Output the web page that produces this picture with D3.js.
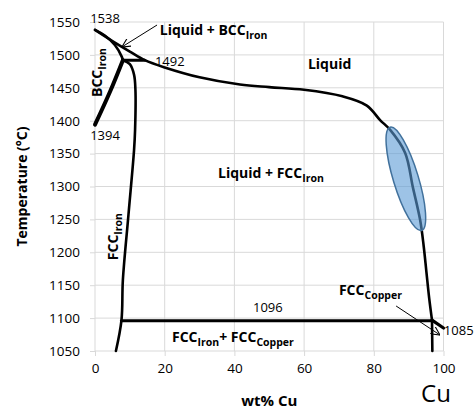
<!DOCTYPE html>
<html>
<head>
<meta charset="utf-8">
<script src="https://cdn.jsdelivr.net/npm/d3@7"></script>
<style>
  body { margin: 0; background: #fff; }
  svg text { font-family: "Open Sans", "Liberation Sans", sans-serif; fill: #000; }
  .grid line { stroke: #d9d9d9; stroke-width: 1; }
  .axis path, .axis line { stroke: #d9d9d9; }
  .axis text { font-size: 13.5px; }
  .lbl { font-weight: bold; font-size: 14px; }
  .num { font-size: 13px; }
  .phase { fill: none; stroke: #000; stroke-linecap: round; stroke-linejoin: round; }
</style>
</head>
<body>
<div id="chart"></div>
<script>
// phase boundaries, [wt% Cu, temperature]
var liquidus = [[0,1538],[5,1521],[10,1505],[14.3,1492],[20,1481],[30,1466],[41.6,1455],[50,1451],[60,1447],[71,1437],[78,1423],[81.8,1401],[84.7,1386],[89,1351],[91.2,1299],[93.3,1249],[94.3,1210],[95.1,1170],[95.9,1130],[96.7,1097]];
var bccSolidus = [[0,1538],[2.9,1529],[5.7,1515],[7.7,1497],[8,1492]];
var bccFcc = [[8,1492],[4.3,1444],[0,1394]];
var fccIron = [[8,1492],[10,1486],[11.2,1470],[11.6,1447],[11.5,1386],[11.2,1355],[9.6,1257],[8,1158],[7.6,1097],[6,1050]];
var peritectic = [[8,1492],[14.3,1492]];
var eutectic = [[7.6,1096],[96.7,1096]];
var fccCopper = [[96.7,1097],[96.8,1050]];
var copperMelt = [[96.7,1097],[100,1085]];
var xTicks = [0,20,40,60,80,100];
var yTicks = [1050,1100,1150,1200,1250,1300,1350,1400,1450,1500,1550];

var margin = {top: 22, right: 31.5, bottom: 59, left: 95},
    width = 475 - margin.left - margin.right,
    height = 410 - margin.top - margin.bottom;

var svg = d3.select("#chart").append("svg")
    .attr("width", 475)
    .attr("height", 410);

var defs = svg.append("defs");
defs.append("marker")
    .attr("id", "arr")
    .attr("viewBox", "0 0 10 10")
    .attr("refX", 10).attr("refY", 5)
    .attr("markerWidth", 9).attr("markerHeight", 9)
    .attr("markerUnits", "userSpaceOnUse")
    .attr("orient", "auto")
  .append("path")
    .attr("d", "M0,0 L10,5 L0,10")
    .attr("fill", "none")
    .attr("stroke", "#000")
    .attr("stroke-width", 1.2);

var g = svg.append("g")
    .attr("transform", "translate(" + margin.left + "," + margin.top + ")");

var x = d3.scaleLinear().domain([0, 100]).range([0, width]);
var y = d3.scaleLinear().domain([1050, 1550]).range([height, 0]);

// gridlines
g.append("g").attr("class", "grid")
  .selectAll("line.v").data(xTicks).enter().append("line")
    .attr("x1", function(d) { return x(d); }).attr("x2", function(d) { return x(d); })
    .attr("y1", 0).attr("y2", height);
g.append("g").attr("class", "grid")
  .selectAll("line.h").data(yTicks).enter().append("line")
    .attr("x1", 0).attr("x2", width)
    .attr("y1", function(d) { return y(d); }).attr("y2", function(d) { return y(d); });

var xAxis = g.append("g").attr("class", "axis")
    .attr("transform", "translate(0," + height + ")")
    .call(d3.axisBottom(x).tickValues(xTicks).tickSize(5).tickPadding(7));
var yAxis = g.append("g").attr("class", "axis")
    .call(d3.axisLeft(y).tickValues(yTicks).tickFormat(d3.format("d")).tickSize(5).tickPadding(10));
g.selectAll(".axis .domain").remove();

var line = d3.line()
    .x(function(d) { return x(d[0]); })
    .y(function(d) { return y(d[1]); });
var smooth = d3.line()
    .x(function(d) { return x(d[0]); })
    .y(function(d) { return y(d[1]); })
    .curve(d3.curveCatmullRom.alpha(0.5));

function drawLine(pts, w, gen) {
  g.append("path").attr("class", "phase")
    .attr("d", (gen || line)(pts))
    .attr("stroke-width", w);
}
drawLine(liquidus, 2.6, smooth);
drawLine(bccSolidus, 2.6, smooth);
drawLine(fccIron, 2.6, smooth);
drawLine(bccFcc, 4, smooth);
drawLine(peritectic, 3);
drawLine(eutectic, 3.2);
drawLine(fccCopper, 2.6);
drawLine(copperMelt, 3.2);

// highlight ellipse
g.append("ellipse")
    .attr("transform", "translate(" + x(89.2) + "," + y(1311.7) + ") rotate(-17)")
    .attr("rx", 12.5).attr("ry", 54)
    .attr("fill", "rgba(91,155,213,0.6)")
    .attr("stroke", "#41719c")
    .attr("stroke-width", 1.5);

// labels with subscripts
function label(px, py, parts, rotate) {
  var t = g.append("text").attr("class", "lbl");
  if (rotate) {
    t.attr("transform", "translate(" + px + "," + py + ") rotate(-90)");
  } else {
    t.attr("x", px).attr("y", py);
  }
  parts.forEach(function(p) {
    var s = t.append("tspan").text(p[0]);
    if (p[1]) s.attr("font-size", "10.5px").attr("dy", 4);
    else if (p[2]) s.attr("dy", -4);
  });
  return t;
}
label(x(18.6), y(1530), [["Liquid + BCC"], ["Iron", 1]]);
label(x(61.1), y(1478.6), [["Liquid"]]);
label(x(35.3), y(1313), [["Liquid + FCC"], ["Iron", 1]]);
label(x(22.1), y(1063.7), [["FCC"], ["Iron", 1], ["+ FCC", 0, 1], ["Copper", 1]]);
label(x(70), y(1135.1), [["FCC"], ["Copper", 1]]);
label(x(2), y(1436), [["BCC"], ["Iron", 1]], true);
label(x(6.6), y(1188), [["FCC"], ["Iron", 1]], true);

// point values
function num(px, py, txt, anchor) {
  g.append("text").attr("class", "num")
    .attr("x", px).attr("y", py)
    .attr("text-anchor", anchor || "start")
    .text(txt);
}
num(x(-1.4), y(1548.5), "1538");
num(x(17.2), y(1483.1), "1492");
num(x(-1.4), y(1370.7), "1394");
num(x(49.6), y(1109.3), "1096", "middle");
num(x(100.1), y(1074.3), "1085");

// arrows
g.append("line")
    .attr("x1", x(17.8)).attr("y1", y(1545.4))
    .attr("x2", x(7.7)).attr("y2", y(1512))
    .attr("stroke", "#000").attr("stroke-width", 1)
    .attr("marker-end", "url(#arr)");
g.append("line")
    .attr("x1", x(86.4)).attr("y1", y(1118.4))
    .attr("x2", x(99)).attr("y2", y(1074.3))
    .attr("stroke", "#000").attr("stroke-width", 1)
    .attr("marker-end", "url(#arr)");

// axis titles
svg.append("text")
    .attr("class", "lbl")
    .attr("transform", "translate(27," + (margin.top + height / 2) + ") rotate(-90)")
    .attr("text-anchor", "middle")
    .style("font-size", "14px")
    .text("Temperature (°C)");
svg.append("text")
    .attr("class", "lbl")
    .attr("x", margin.left + width / 2).attr("y", 406)
    .attr("text-anchor", "middle")
    .style("font-size", "15px")
    .text("wt% Cu");
svg.append("text")
    .attr("x", 436).attr("y", 402)
    .attr("text-anchor", "middle")
    .style("font-size", "24px")
    .text("Cu");
</script>
</body>
</html>
